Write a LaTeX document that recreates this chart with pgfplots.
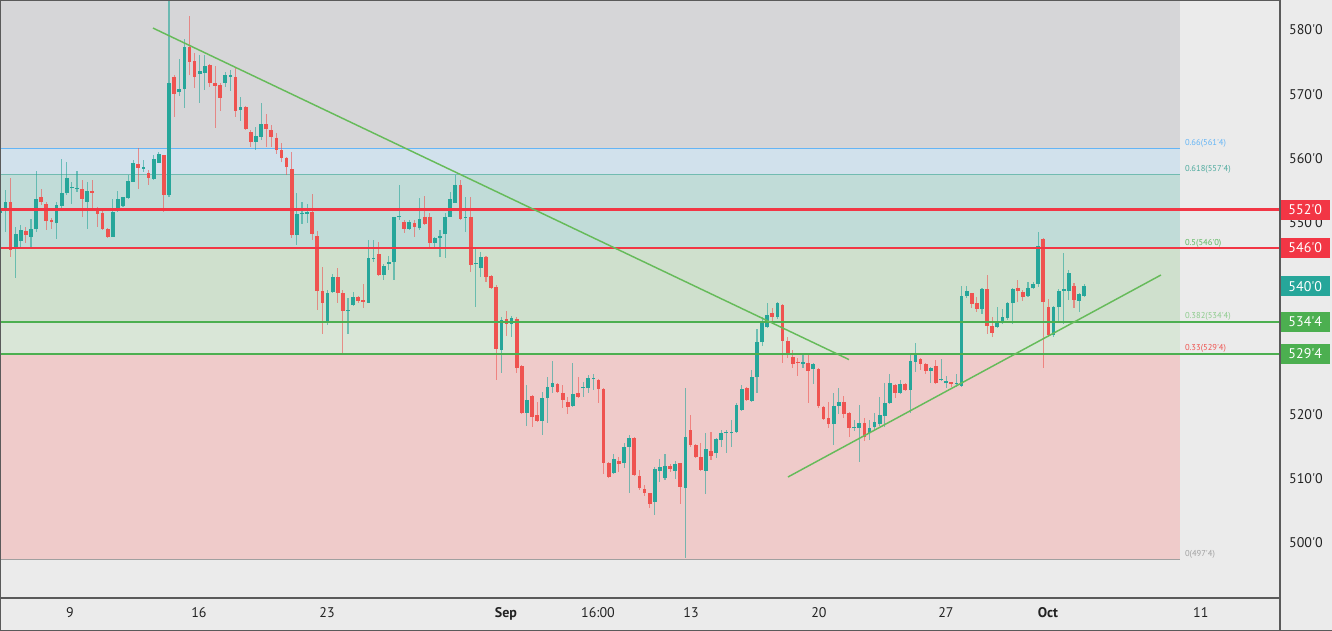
\documentclass[border=0pt]{standalone}
\usepackage{fontspec}
\setmainfont{PT Sans}
\usepackage{pgfplots}
\usepackage{pgfplotstable}
\pgfplotsset{compat=1.18}

\definecolor{bgc}{HTML}{EBEBEB}
\definecolor{zgray}{HTML}{D6D6D8}
\definecolor{zblue}{HTML}{D1E1EC}
\definecolor{zteal}{HTML}{C1DCD8}
\definecolor{zgreen}{HTML}{CFE0CD}
\definecolor{zlgreen}{HTML}{D9E6D7}
\definecolor{zpink}{HTML}{EFCBCA}
\definecolor{bull}{HTML}{26A69A}
\definecolor{bear}{HTML}{EF5350}
\definecolor{lred}{HTML}{F23645}
\definecolor{lgreen}{HTML}{4CAF50}
\definecolor{trend}{HTML}{66BB5A}
\definecolor{frame}{HTML}{5A5A5A}
\definecolor{tickc}{HTML}{222222}
\definecolor{fibblue}{HTML}{64B5F6}
\definecolor{fibteal}{HTML}{4DAA9E}
\definecolor{fibgreen}{HTML}{5CB860}
\definecolor{fiblgreen}{HTML}{8CCB8C}
\definecolor{fibred}{HTML}{EF5350}
\definecolor{fibgray}{HTML}{A0A0A0}

\newcommand{\q}{\textquotesingle}
\newcommand{\lbl}{\fontsize{10.5}{12}\selectfont}
\newcommand{\fib}{\fontsize{6.4}{7}\selectfont}

% 4h candles, i = bar index, prices in cents
\pgfplotstableread{
i o h l c
0 551.4 553.5 550.4 551.9
1 551.81 555.04 548.53 553.12
2 553.12 556.91 544.63 545.68
3 545.84 549.31 541.36 548.18
4 547.13 549.58 546.19 548.80
5 548.60 549.31 546.73 548.07
6 547.75 550.52 545.79 548.91
7 548.91 558.05 548.53 553.64
8 553.90 555.15 552.70 553.21
9 552.86 553.21 548.80 550.25
10 550.41 550.63 548.96 550.05
11 549.85 553.21 547.35 552.70
12 552.59 559.83 551.92 554.62
13 554.53 559.36 554.26 556.87
14 555.31 556.33 552.86 555.55
15 555.24 558.05 554.77 555.40
16 555.15 556.60 550.87 553.59
17 553.21 556.33 548.96 554.93
18 554.93 556.60 552.19 554.53
19 552.03 552.44 549.31 551.30
20 551.41 551.76 548.80 548.96
21 548.91 549.07 547.66 547.75
22 547.75 553.64 547.66 551.56
23 551.76 554.88 551.56 553.64
24 552.59 553.99 552.44 553.90
25 553.75 557.38 553.59 556.44
26 556.33 559.72 556.24 559.21
27 559.10 561.59 555.15 558.43
28 558.36 559.72 557.90 558.58
29 557.65 558.16 555.82 556.87
30 556.76 560.50 556.60 559.83
31 559.33 560.97 559.25 560.66
32 560.45 560.50 551.56 554.26
33 554.26 585.00 554.00 571.69
34 572.71 572.98 566.38 570.02
35 570.28 575.43 569.75 570.80
36 570.75 578.55 567.79 577.39
37 577.39 582.18 572.98 575.05
38 575.16 576.37 570.91 572.62
39 573.14 576.10 568.57 573.60
40 573.34 576.10 570.64 574.38
41 574.54 574.70 571.16 571.78
42 571.69 574.38 564.76 571.26
43 571.42 571.69 567.36 569.44
44 571.78 573.49 571.16 572.98
45 572.67 573.76 570.53 572.93
46 572.62 574.03 566.47 567.36
47 567.52 569.60 565.85 567.94
48 567.94 568.14 564.40 564.56
49 564.04 564.40 561.79 562.57
50 562.57 564.91 561.28 563.46
51 563.35 568.66 562.84 565.34
52 565.34 566.85 561.79 564.56
53 564.40 565.18 561.79 563.35
54 563.20 563.89 560.61 561.28
55 561.28 562.42 559.45 559.99
56 560.08 560.24 557.38 558.58
57 558.32 561.01 547.50 548.02
58 548.02 554.62 546.46 551.30
59 551.34 553.17 549.74 551.50
60 551.34 552.86 549.89 551.61
61 551.65 554.37 547.24 548.18
62 547.86 548.64 536.32 539.28
63 539.33 543.07 532.58 537.37
64 534.49 539.44 533.98 538.93
65 539.08 541.94 538.93 541.42
66 541.42 542.82 537.37 538.93
67 538.93 539.44 529.57 536.21
68 536.16 538.15 532.58 536.32
69 537.10 539.17 536.94 538.30
70 538.30 538.50 537.41 537.77
71 537.88 540.38 536.59 537.62
72 537.46 547.24 537.37 544.38
73 544.23 547.24 543.85 544.38
74 545.06 546.97 541.74 541.78
75 541.78 543.50 541.00 543.23
76 543.50 544.79 542.56 543.76
77 543.81 550.90 541.00 550.87
78 550.78 555.82 550.36 550.98
79 550.10 550.36 548.38 548.96
80 548.96 550.36 548.80 550.10
81 549.85 550.36 547.66 549.32
82 549.07 553.75 548.80 550.47
83 550.87 554.10 549.58 549.74
84 550.87 551.50 546.10 546.82
85 546.82 547.75 546.10 547.50
86 547.50 548.80 544.63 547.86
87 548.18 551.41 544.38 550.87
88 550.87 554.77 550.78 553.59
89 553.06 557.38 552.97 555.82
90 555.82 556.60 550.36 550.47
91 550.78 553.90 548.53 550.87
92 550.87 553.99 542.30 543.34
93 543.50 545.94 536.84 543.61
94 542.83 545.41 541.51 544.63
95 544.63 544.74 540.69 541.51
96 541.62 541.78 539.60 539.71
97 539.86 540.22 525.40 530.24
98 530.08 535.27 526.54 534.76
99 534.87 536.21 532.26 534.09
100 534.14 535.38 532.06 535.12
101 534.87 535.27 526.54 527.23
102 527.58 527.74 520.20 520.30
103 520.30 524.62 518.22 522.28
104 522.90 523.06 518.02 519.58
105 519.94 522.01 518.90 519.05
106 519.05 523.57 516.82 522.55
107 522.55 525.82 518.74 524.35
108 524.35 528.36 523.42 524.98
109 524.78 524.93 523.53 523.57
110 523.42 524.62 520.99 522.28
111 522.01 522.79 520.10 521.14
112 521.34 528.10 521.23 523.22
113 523.33 525.82 522.75 522.79
114 524.10 525.14 522.79 524.35
115 524.10 526.18 523.42 525.67
116 525.56 526.34 523.84 525.67
117 525.40 525.50 521.77 523.95
118 523.95 524.10 510.74 512.50
119 512.50 512.65 510.20 510.31
120 510.85 513.86 510.74 513.03
121 512.81 513.43 511.10 512.30
122 512.41 515.62 511.63 514.90
123 514.90 516.82 507.73 516.31
124 516.31 516.46 510.42 510.58
125 510.42 511.36 508.20 508.51
126 508.35 509.02 507.30 507.82
127 507.73 507.82 505.39 506.06
128 506.42 511.78 504.34 511.47
129 511.25 513.03 509.53 511.87
130 510.07 513.86 509.80 511.98
131 511.98 512.30 511.10 511.47
132 511.25 512.81 509.91 512.30
133 512.41 512.45 506.06 508.75
134 508.51 524.10 497.59 516.56
135 517.60 519.94 515.00 515.26
136 515.26 515.40 513.23 513.34
137 513.43 515.60 511.30 511.36
138 511.25 517.18 507.62 514.59
139 514.37 517.33 512.92 513.54
140 513.97 516.31 513.18 516.15
141 516.04 517.60 514.99 517.18
142 517.09 517.60 513.97 517.34
143 517.09 519.16 514.99 517.34
144 517.34 521.77 517.18 521.50
145 520.72 524.62 520.61 523.95
146 524.10 524.30 522.12 522.28
147 522.17 526.96 522.01 525.82
148 525.82 533.31 523.33 531.37
149 531.28 535.27 530.70 534.65
150 533.62 537.37 533.60 535.54
151 535.80 536.59 534.50 535.27
152 535.18 537.62 535.00 537.37
153 537.10 537.26 528.10 531.53
154 531.53 532.16 528.79 529.57
155 529.04 530.08 527.23 527.90
156 528.26 528.79 526.02 528.00
157 527.90 529.46 527.23 528.26
158 528.10 529.30 521.77 526.85
159 527.07 528.10 524.78 527.90
160 527.07 527.23 520.99 521.34
161 521.23 521.40 519.16 519.27
162 519.43 522.01 517.87 518.54
163 518.54 523.33 515.26 521.39
164 521.34 524.10 520.10 522.01
165 522.01 522.90 519.43 520.10
166 520.21 520.46 516.56 517.87
167 517.87 519.16 517.44 518.11
168 517.87 521.50 512.66 518.65
169 518.65 519.43 515.93 516.56
170 517.09 519.16 516.04 517.87
171 518.02 520.21 517.60 518.90
172 518.54 522.70 518.22 519.94
173 519.83 524.98 518.11 521.86
174 521.77 526.29 521.66 524.98
175 524.62 524.78 522.55 523.42
176 523.42 525.40 523.22 524.78
177 524.78 524.89 523.73 523.84
178 523.84 529.57 520.30 528.36
179 528.26 531.13 526.70 529.46
180 528.63 528.79 526.96 527.90
181 527.90 528.10 526.34 526.85
182 526.80 527.47 524.98 527.23
183 527.63 528.52 524.89 524.98
184 525.35 528.63 525.29 525.60
185 524.89 526.07 524.11 525.29
186 525.04 525.14 524.36 524.78
187 524.78 526.34 524.36 524.89
188 524.51 540.06 524.36 538.50
189 538.50 540.11 538.15 539.33
190 538.93 539.02 536.59 537.26
191 537.37 538.30 536.06 536.43
192 536.43 539.71 535.70 539.55
193 539.55 541.78 532.58 533.82
194 533.82 535.27 532.06 532.78
195 533.62 536.74 533.47 534.34
196 534.24 536.43 534.14 535.18
197 535.03 537.62 534.76 537.37
198 537.37 539.71 534.14 539.55
199 539.80 541.00 537.62 539.33
200 539.17 539.44 537.77 538.30
201 538.50 540.74 538.40 539.80
202 539.71 540.74 539.55 540.38
203 540.38 548.53 539.96 546.30
204 547.35 547.50 527.23 537.61
205 536.74 537.99 532.16 532.42
206 532.42 536.94 532.16 536.74
207 536.74 539.55 534.65 539.33
208 539.33 545.26 534.14 539.55
209 539.33 542.56 537.88 542.05
210 540.06 540.58 536.59 537.88
211 537.77 538.93 536.06 538.82
212 538.50 540.38 538.30 540.00
}\candles

\pgfplotsset{
  up/.style={x filter/.expression={\thisrow{c}>=\thisrow{o} ? x : nan}},
  down/.style={x filter/.expression={\thisrow{c}<\thisrow{o} ? x : nan}},
  wick/.style={draw=none, forget plot,
    error bars/.cd, y dir=both, y explicit, error mark=none,
    error bar style={line width=0.8pt, draw=#1, opacity=0.6}},
  body/.style={draw=none, forget plot,
    error bars/.cd, y dir=both, y explicit, error mark=none,
    error bar style={line width=2.8pt, draw=#1}},
}

\begin{document}
\begin{tikzpicture}
\fill[bgc] (0,-24.75pt) rectangle (999pt,448.5pt);
\begin{axis}[
  at={(0,0)}, anchor=south west,
  scale only axis, width=960pt, height=448.5pt,
  xmin=-0.06, xmax=250.29, ymin=491.42, ymax=584.68,
  axis line style={draw=frame, line width=0.9pt},
  major tick length=0pt,
  xtick={13.63,38.86,63.9,98.9,116.9,135.1,160.1,184.96,204.9,234.8},
  xticklabels={9,16,23,\textbf{Sep},16:00,13,20,27,\textbf{Oct},11},
  xticklabel style={anchor=base, yshift=-15pt, font=\lbl, text=tickc},
  ytick={500,510,520,550,560,570,580},
  yticklabels={500\q0,510\q0,520\q0,550\q0,560\q0,570\q0,580\q0},
  yticklabel pos=right,
  yticklabel style={anchor=center, xshift=19.5pt, font=\lbl, text=tickc},
]
% fibonacci zones
\fill[zgray] (axis cs:-0.06,561.5) rectangle (axis cs:230.8,584.68);
\fill[zblue] (axis cs:-0.06,557.5) rectangle (axis cs:230.8,561.5);
\fill[zteal] (axis cs:-0.06,546) rectangle (axis cs:230.8,557.5);
\fill[zgreen] (axis cs:-0.06,534.5) rectangle (axis cs:230.8,546);
\fill[zlgreen] (axis cs:-0.06,529.5) rectangle (axis cs:230.8,534.5);
\fill[zpink] (axis cs:-0.06,497.5) rectangle (axis cs:230.8,529.5);
\draw[fibblue, line width=0.7pt] (axis cs:-0.06,561.5) -- (axis cs:230.8,561.5);
\draw[fibteal!80, line width=0.7pt] (axis cs:-0.06,557.5) -- (axis cs:230.8,557.5);
\draw[fibgray, line width=0.7pt] (axis cs:-0.06,497.5) -- (axis cs:230.8,497.5);

% candles
\addplot[up, wick=bull] table[x=i, y=c, y error plus expr=\thisrow{h}-\thisrow{c}, y error minus expr=\thisrow{c}-\thisrow{l}] {\candles};
\addplot[down, wick=bear] table[x=i, y=c, y error plus expr=\thisrow{h}-\thisrow{c}, y error minus expr=\thisrow{c}-\thisrow{l}] {\candles};
\addplot[up, body=bull] table[x=i, y=o, y error plus expr=\thisrow{c}-\thisrow{o}, y error minus expr=0] {\candles};
\addplot[down, body=bear] table[x=i, y=o, y error plus expr=0, y error minus expr=\thisrow{o}-\thisrow{c}] {\candles};

% horizontal levels
\draw[lred, line width=1.6pt] (axis cs:-0.06,552) -- (axis cs:250.29,552);
\draw[lred, line width=1.6pt] (axis cs:-0.06,546) -- (axis cs:250.29,546);
\draw[lgreen, line width=1.6pt] (axis cs:-0.06,534.5) -- (axis cs:250.29,534.5);
\draw[lgreen, line width=1.6pt] (axis cs:-0.06,529.5) -- (axis cs:250.29,529.5);

% trend lines
\addplot[trend, line width=1.1pt, forget plot] coordinates {(29.87,580.3) (166.0,528.6)};
\addplot[trend, line width=1.1pt, forget plot] coordinates {(154.06,510.29) (227.0,541.79)};

% fib labels
\node[anchor=south west, inner sep=0.6pt, text=fibblue, font=\fib] at (axis cs:231.5,561.5) {0.66(561\q4)};
\node[anchor=south west, inner sep=0.6pt, text=fibteal, font=\fib] at (axis cs:231.5,557.5) {0.618(557\q4)};
\node[anchor=south west, inner sep=0.6pt, text=fibgreen, font=\fib] at (axis cs:231.5,546) {0.5(546\q0)};
\node[anchor=south west, inner sep=0.6pt, text=fiblgreen, font=\fib] at (axis cs:231.5,534.5) {0.382(534\q4)};
\node[anchor=south west, inner sep=0.6pt, text=fibred, font=\fib] at (axis cs:231.5,529.5) {0.33(529\q4)};
\node[anchor=south west, inner sep=0.6pt, text=fibgray, font=\fib] at (axis cs:231.5,497.5) {0(497\q4)};

\coordinate (b552) at (axis cs:250.29,552);
\coordinate (b546) at (axis cs:250.29,546);
\coordinate (b540) at (axis cs:250.29,540.0);
\coordinate (b5344) at (axis cs:250.29,534.5);
\coordinate (b5294) at (axis cs:250.29,529.5);
\end{axis}

% price boxes on the right scale
\tikzset{pbox/.style={fill=#1, text=white, font=\lbl, minimum width=37.5pt, minimum height=15pt, inner sep=0pt, anchor=west}}
\node[pbox=lred] at (b552) {552\q0};
\node[pbox=lred] at (b546) {546\q0};
\node[pbox=bull] at (b540) {540\q0};
\node[pbox=lgreen] at (b5344) {534\q4};
\node[pbox=lgreen] at (b5294) {529\q4};

\draw[frame, line width=0.9pt] (960pt,-24.75pt) -- (960pt,448.5pt);
\draw[frame, line width=1.2pt] (0,448.5pt) -- (0,-24.75pt) -- (999pt,-24.75pt);
\draw[frame, line width=0.9pt] (0,448.5pt) -- (960pt,448.5pt);
\pgfresetboundingbox
\path[use as bounding box] (0,-24.75pt) rectangle (999pt,448.5pt);
\end{tikzpicture}
\end{document}
